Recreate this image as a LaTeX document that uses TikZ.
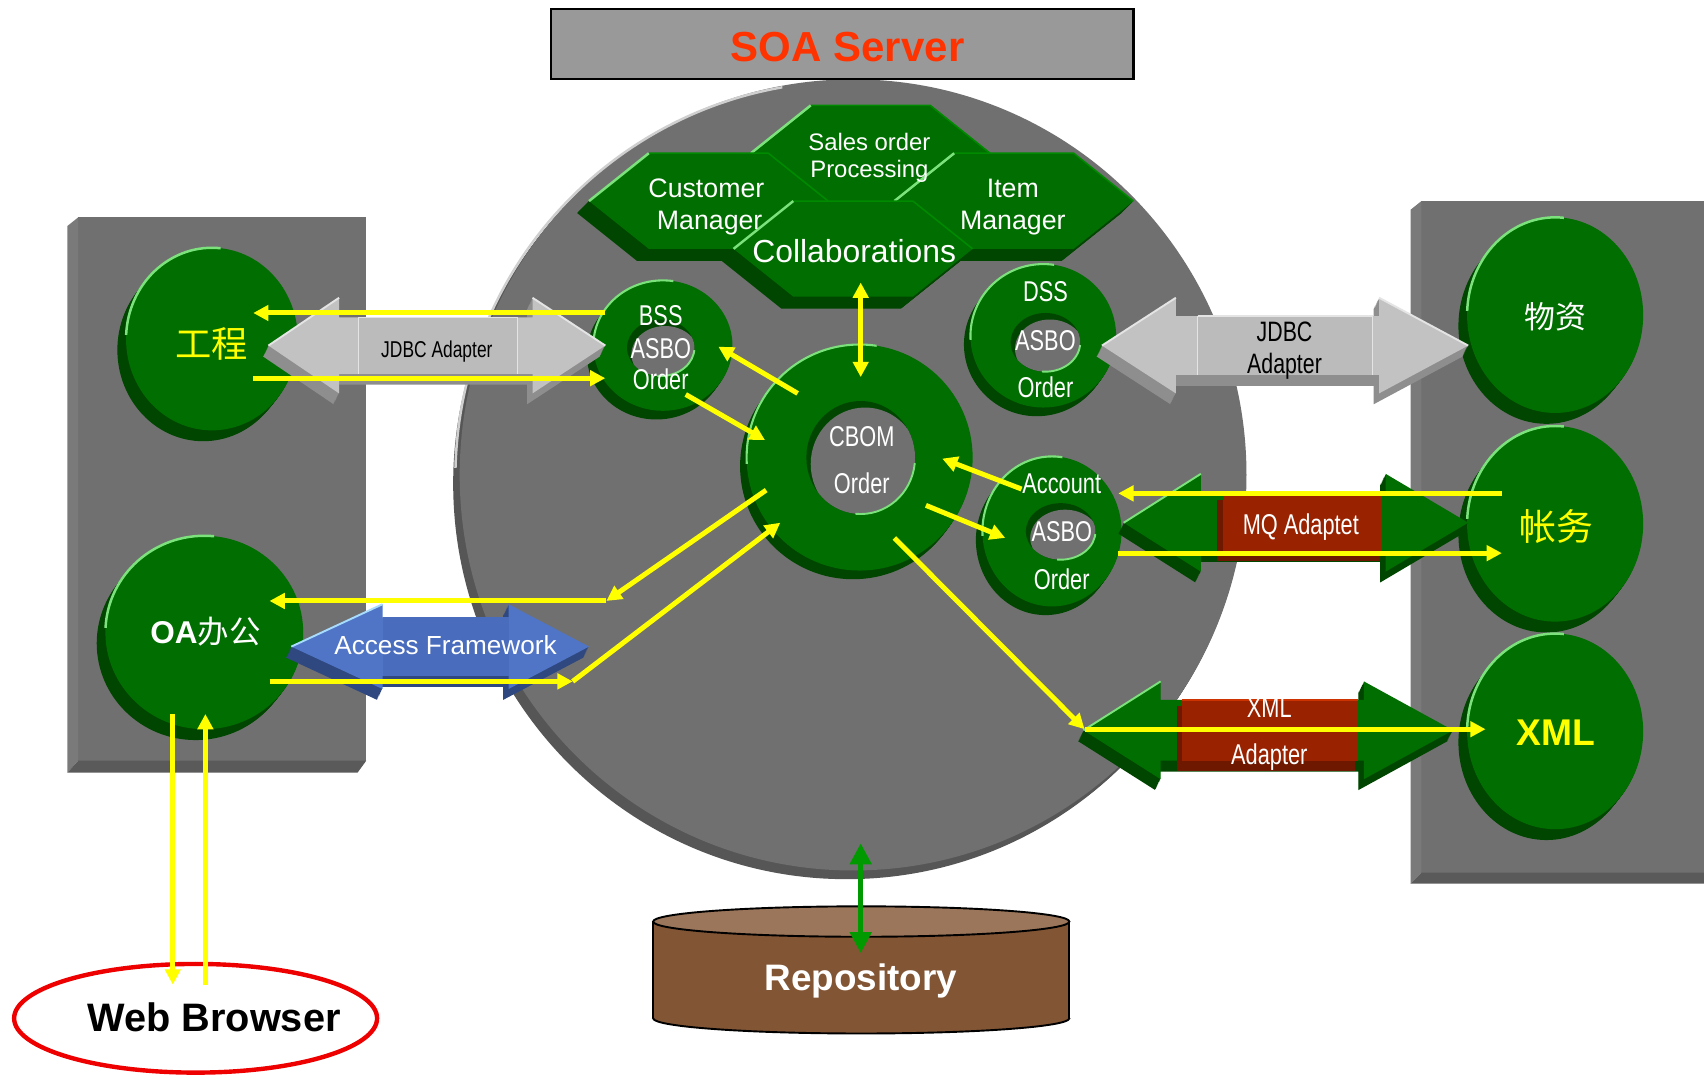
\documentclass[tikz,border=0pt]{standalone}
\usepackage{fontspec}
\setmainfont{Liberation Sans}
\newfontfamily\narrowf[FakeStretch=0.76]{Liberation Sans}
\newfontfamily\cjk{Noto Sans CJK SC}
\usetikzlibrary{arrows.meta}
\definecolor{gmain}{HTML}{006E00}
\definecolor{gdark}{HTML}{004600}
\definecolor{gedge}{HTML}{008A00}
\definecolor{glight}{HTML}{7CE27C}
\definecolor{diskface}{HTML}{707070}
\definecolor{diskrim}{HTML}{565656}
\definecolor{diskhl}{HTML}{CFCFCF}
\definecolor{panelface}{HTML}{707070}
\definecolor{paneldark}{HTML}{5A5A5A}
\definecolor{panellight}{HTML}{7A7A7A}
\definecolor{soagray}{HTML}{999999}
\definecolor{soared}{HTML}{FF3300}
\definecolor{yel}{HTML}{FFFF00}
\definecolor{adred}{HTML}{992200}
\definecolor{adreddark}{HTML}{6E1800}
\definecolor{adredlight}{HTML}{CC3300}
\definecolor{jhead}{HTML}{C2C2C2}
\definecolor{jbody}{HTML}{BBBBBB}
\definecolor{jdark}{HTML}{8E8E8E}
\definecolor{jlight}{HTML}{E4E4E4}
\definecolor{bhead}{HTML}{5075C6}
\definecolor{bbody}{HTML}{4A6CBD}
\definecolor{bdark}{HTML}{2F4880}
\definecolor{blight}{HTML}{A8DCFF}
\definecolor{repobody}{HTML}{825535}
\definecolor{repotop}{HTML}{9C765A}
\definecolor{repogreen}{HTML}{009900}
\definecolor{wbred}{HTML}{EE0000}
\tikzset{
  yarrow/.style={draw=yel, line width=2.6pt, -{Triangle[length=8pt,width=8pt]}},
  ydbl/.style={draw=yel, line width=2.6pt, {Triangle[length=8pt,width=8pt]}-{Triangle[length=8pt,width=8pt]}},
  garrow/.style={draw=repogreen, line width=2.6pt, {Triangle[length=11pt,width=11pt]}-{Triangle[length=11pt,width=11pt]}},
}
% hexagon: cx cy
\newcommand\hexa[2]{%
  \foreach \s in {1,...,11}{%
    \fill[gdark,shift={({-\s},{\s})}] (#1-110,#2) -- (#1-55,#2-44) -- (#1+55,#2-44) -- (#1+110,#2) -- (#1+55,#2+44) -- (#1-55,#2+44) -- cycle;}%
  \fill[gmain] (#1-110,#2) -- (#1-55,#2-44) -- (#1+55,#2-44) -- (#1+110,#2) -- (#1+55,#2+44) -- (#1-55,#2+44) -- cycle;
  \draw[gedge,line width=0.8pt] (#1-55,#2-44) -- (#1+55,#2-44) -- (#1+110,#2);
  \draw[glight,line width=1.3pt] (#1-110,#2) -- (#1-55,#2-44);}
% green disc: cx cy rx ry
\newcommand\gdisc[4]{%
  \foreach \s in {1,...,10}{\fill[gdark] ({#1-0.8*\s},{#2+\s}) ellipse[x radius=#3,y radius=#4];}%
  \fill[gmain] (#1,#2) ellipse[x radius=#3,y radius=#4];
  \begin{scope}\clip ({#1-#3-12},{#2-#4-12}) rectangle ({#1+0.1*#3},{#2-0.05*#4});
  \draw[glight,line width=1.3pt] (#1,#2) ellipse[x radius=#3,y radius=#4];\end{scope}}
% ring: cx cy rx ry hx hy hrx hry
\newcommand\ring[8]{%
  \foreach \s in {1,...,8}{\fill[gdark] ({#1-0.75*\s},{#2+\s}) ellipse[x radius=#3,y radius=#4];}%
  \fill[gmain] (#1,#2) ellipse[x radius=#3,y radius=#4];
  \begin{scope}\clip ({#1-#3-12},{#2-#4-12}) rectangle ({#1+0.15*#3},{#2+0.05*#4});
  \draw[glight,line width=1.1pt] (#1,#2) ellipse[x radius=#3,y radius=#4];\end{scope}
  \fill[gdark] (#5,#6) ellipse[x radius=#7,y radius=#8];
  \begin{scope}\clip (#5,#6) ellipse[x radius=#7,y radius=#8];
  \fill[diskface] ({#5+4},{#6+6}) ellipse[x radius=#7,y radius=#8];\end{scope}
  \begin{scope}\clip ({#5-0.1*#7},{#6+0.1*#8}) rectangle ({#5+#7+5},{#6+#8+5});
  \draw[glight,line width=1pt] (#5,#6) ellipse[x radius=#7,y radius=#8];\end{scope}}
% double arrow: tipL tipR cy fL fR hh bh headcolor darkcolor
\newcommand\dblarrow[9]{%
  \foreach \s in {1,...,10}{\fill[#9,shift={({-0.5*\s},{\s})}] (#1,#3) -- (#4,{#3-#6}) -- (#4,{#3-#7}) -- (#5,{#3-#7}) -- (#5,{#3-#6}) -- (#2,#3) -- (#5,{#3+#6}) -- (#5,{#3+#7}) -- (#4,{#3+#7}) -- (#4,{#3+#6}) -- cycle;}%
  \fill[#8] (#1,#3) -- (#4,{#3-#6}) -- (#4,{#3-#7}) -- (#5,{#3-#7}) -- (#5,{#3-#6}) -- (#2,#3) -- (#5,{#3+#6}) -- (#5,{#3+#7}) -- (#4,{#3+#7}) -- (#4,{#3+#6}) -- cycle;}
% label: name x ycenter size fontcmd color text
\newcommand\lbl[7]{\node[anchor=base,inner sep=0pt,font={#5\fontsize{#4}{#4}\selectfont},text=#6] (#1) at (#2,{#3+0.6315*#4}) {#7};}
\begin{document}
\begin{tikzpicture}[x=0.02cm,y=-0.02cm]
\useasboundingbox (0,0) rectangle (1568,990);
\fill[white] (0,0) rectangle (1568,990);
% side panels
\fill[panelface] (72,200) rectangle (337,700);
\fill[panellight] (62,208) -- (72,200) -- (72,700) -- (62,711) -- cycle;
\fill[paneldark] (62,711) -- (72,700) -- (337,700) -- (329,711) -- cycle;
\fill[panelface] (1308,185) rectangle (1568,803);
\fill[panellight] (1298,193) -- (1308,185) -- (1308,803) -- (1298,813) -- cycle;
\fill[paneldark] (1298,813) -- (1308,803) -- (1568,803) -- (1568,813) -- cycle;
% server disc
\foreach \s in {1,...,8}{\fill[diskrim] ({785-0.75*\s},{437+\s}) ellipse[x radius=362,y radius=364];}
\fill[diskface] (785,437) ellipse[x radius=362,y radius=364];
\begin{scope}\clip (400,60) rectangle (720,430);
\draw[diskhl,line width=1.3pt] (782,440) ellipse[x radius=363,y radius=365];\end{scope}
% SOA box
\filldraw[fill=soagray,draw=black,line width=1.1pt] (507,8) rectangle (1043,73);
% hexagons
\hexa{801}{141}
\hexa{652}{185}
\hexa{933}{185}
\hexa{785}{229}
% rings
\ring{610}{318}{64}{60}{608}{320}{31}{26}
\ring{960}{309}{67}{66}{962}{315}{32}{27}
\ring{791}{421}{104}{104}{792}{421}{50}{52}
\ring{968}{489}{64}{69}{976}{489}{32}{26}
% system discs
\gdisc{195}{312}{79}{84}
\gdisc{188}{582}{91}{89}
\gdisc{1431}{290}{81}{90}
\gdisc{1431}{482}{81}{90}
\gdisc{1431}{673}{81}{90}
% adapters
\dblarrow{247}{557}{318}{312}{490}{44}{26}{jhead}{jdark}
\fill[jbody] (330,292) rectangle (476,344);
\draw[jlight,line width=0.8pt] (330,292) -- (330,344) (476,292) -- (476,344) (330,292) -- (476,292);
\draw[jlight,line width=1pt] (247,318) -- (312,274) (490,274) -- (557,318);
\dblarrow{1014}{1351}{318}{1082}{1269}{44}{27}{jhead}{jdark}
\fill[jbody] (1102,291) rectangle (1263,345);
\draw[jlight,line width=0.8pt] (1102,291) -- (1102,345) (1263,291) -- (1263,345) (1102,291) -- (1263,291);
\draw[jlight,line width=1pt] (1014,318) -- (1082,274) (1269,274) -- (1351,318);
\dblarrow{1034}{1351}{481}{1105}{1275}{45}{26}{gmain}{gdark}
\fill[adreddark] (1120,460) rectangle (1270,516);
\fill[adred] (1125,455) rectangle (1272,507);
\draw[adredlight,line width=0.8pt] (1125,455) -- (1272,455);
\draw[glight,line width=1pt] (1034,481) -- (1105,436);
\dblarrow{997}{1337}{672}{1068}{1255}{45}{28}{gmain}{gdark}
\fill[adreddark] (1083,650) rectangle (1247,709);
\fill[adred] (1088,644) rectangle (1250,700);
\draw[adredlight,line width=0.8pt] (1088,644) -- (1250,644);
\draw[glight,line width=1pt] (997,672) -- (1068,627);
\dblarrow{268}{542}{595}{352}{468}{39}{27}{bhead}{bdark}
\fill[bbody] (352,568) rectangle (468,622);
\draw[blight,line width=1pt] (268,595) -- (352,556);
% labels
\lbl{soa}{780}{43}{22}{\bfseries}{soared}{SOA Server}
\lbl{sales1}{800}{131}{12.5}{}{white}{Sales order}
\lbl{sales2}{800}{155}{12.5}{}{white}{Processing}
\lbl{cust1}{650}{173}{14}{}{white}{Customer}
\lbl{cust2}{653}{202}{14}{}{white}{Manager}
\lbl{item1}{932}{173}{14}{}{white}{Item}
\lbl{item2}{932}{202}{14}{}{white}{Manager}
\lbl{collab}{786}{231}{16.7}{}{white}{Collaborations}
\lbl{bss1}{608}{290}{15}{\narrowf}{white}{BSS}
\lbl{bss2}{608}{320}{15}{\narrowf}{white}{ASBO}
\lbl{bss3}{608}{349}{15}{\narrowf}{white}{Order}
\lbl{dss1}{962}{268}{15}{\narrowf}{white}{DSS}
\lbl{dss2}{962}{313}{15}{\narrowf}{white}{ASBO}
\lbl{dss3}{962}{356}{15}{\narrowf}{white}{Order}
\lbl{cbom1}{793}{401}{15}{\narrowf}{white}{CBOM}
\lbl{cbom2}{793}{445}{15}{\narrowf}{white}{Order}
\lbl{acc1}{977}{445}{15}{\narrowf}{white}{Account}
\lbl{acc2}{977}{489}{15}{\narrowf}{white}{ASBO}
\lbl{acc3}{977}{533}{15}{\narrowf}{white}{Order}
\lbl{jdbcl}{402}{321}{12}{\narrowf}{black}{JDBC Adapter}
\lbl{jdbcr1}{1182}{305}{14.7}{\narrowf}{black}{JDBC}
\lbl{jdbcr2}{1182}{334}{14.7}{\narrowf}{black}{Adapter}
\lbl{mq}{1197}{482}{15}{\narrowf}{white}{MQ Adaptet}
\lbl{xmla1}{1168}{651}{15}{\narrowf}{white}{XML}
\lbl{xmla2}{1168}{694}{15}{\narrowf}{white}{Adapter}
\lbl{af}{410}{594}{13.7}{}{white}{Access Framework}
\lbl{gc}{195}{317}{19}{\cjk}{yel}{工程}
\lbl{oa}{189}{582}{16.5}{}{white}{{\bfseries OA}{\cjk 办公}}
\lbl{wz}{1431}{292}{16.2}{\cjk}{white}{物资}
\lbl{zw}{1432}{485}{19.3}{\cjk}{yel}{帐务}
\lbl{xml}{1432}{674}{19.5}{\bfseries}{yel}{XML}
% repository
\fill[repobody] (601,848) rectangle (984,937);
\fill[repobody] (792.5,937) ellipse[x radius=191.5,y radius=14];
\draw[line width=1pt] (601,848) -- (601,937) (984,848) -- (984,937);
\begin{scope}\clip (590,937) rectangle (995,960);
\draw[line width=1pt] (792.5,937) ellipse[x radius=191.5,y radius=14];\end{scope}
\filldraw[fill=repotop,draw=black,line width=1pt] (792.5,848) ellipse[x radius=191.5,y radius=14];
\lbl{repo}{792}{899}{19.3}{\bfseries}{white}{Repository}
% web browser
\draw[wbred,line width=2.3pt] (180,937) ellipse[x radius=167,y radius=50];
\lbl{wb}{197}{936}{20.8}{\bfseries}{black}{Web Browser}
% connector end points
\coordinate (bssW1) at (557,288); \coordinate (gcE1) at (233,288);
\coordinate (gcE2) at (233,348); \coordinate (bssW2) at (557,348);
\coordinate (cbomA) at (734,362); \coordinate (bssB) at (661,319);
\coordinate (bssC) at (631,363); \coordinate (cbomB) at (704,405);
\coordinate (collabB) at (792,260); \coordinate (cbomT) at (792,347);
\coordinate (accA) at (940,450); \coordinate (cbomC) at (867,422);
\coordinate (cbomD) at (852,465); \coordinate (accB) at (925,495);
\coordinate (zwA) at (1382,454); \coordinate (accC) at (1029,454);
\coordinate (accD) at (1029,509); \coordinate (zwB) at (1382,509);
\coordinate (cbomE) at (823,495); \coordinate (xmlA) at (998,671);
\coordinate (xmlB) at (1367,671);
\coordinate (cbomF) at (705,451); \coordinate (oaJ1) at (558,553);
\coordinate (oaL) at (248,553);
\coordinate (oaR) at (248,627); \coordinate (oaJ2) at (527,627);
\coordinate (cbomG) at (718,481);
\coordinate (oaB1) at (159,657); \coordinate (wb1) at (159,906);
\coordinate (wb2) at (189,906); \coordinate (oaB2) at (189,657);
\coordinate (discB) at (792,776); \coordinate (repoT) at (792,877);
% yellow connectors
\draw[yarrow] (bssW1) -- (gcE1);
\draw[yarrow] (gcE2) -- (bssW2);
\draw[yarrow] (cbomA) -- (bssB);
\draw[yarrow] (bssC) -- (cbomB);
\draw[ydbl] (collabB) -- (cbomT);
\draw[yarrow] (accA) -- (cbomC);
\draw[yarrow] (cbomD) -- (accB);
\draw[yarrow] (zwA) -- (accC);
\draw[yarrow] (accD) -- (zwB);
\draw[yarrow] (cbomE) -- (xmlA);
\draw[yarrow] (xmlA) -- (xmlB);
\draw[yarrow] (cbomF) -- (oaJ1);
\draw[yarrow] (oaJ1) -- (oaL);
\draw[yarrow] (oaR) -- (oaJ2);
\draw[yarrow] (oaJ2) -- (cbomG);
\draw[yarrow] (oaB1) -- (wb1);
\draw[yarrow] (wb2) -- (oaB2);
\draw[garrow] (discB) -- (repoT);
\end{tikzpicture}
\end{document}
